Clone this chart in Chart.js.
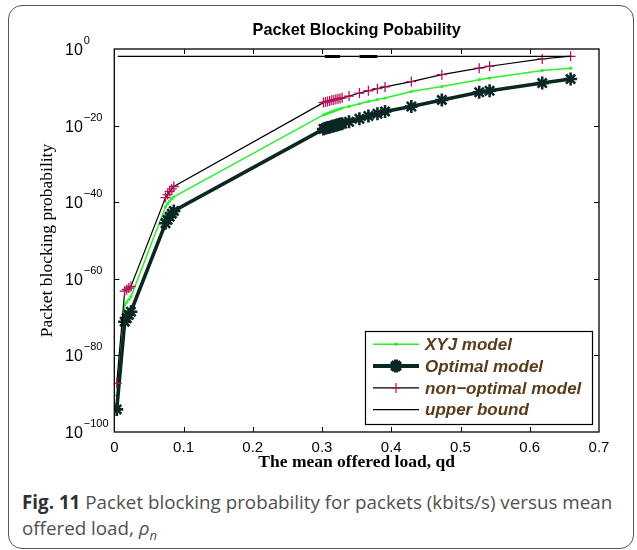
<!DOCTYPE html>
<html><head><meta charset="utf-8">
<script src="https://cdn.jsdelivr.net/npm/chart.js@4"></script>
<style>
html,body{margin:0;padding:0;background:#fff;}
#wrap{position:relative;width:637px;height:550px;overflow:hidden;background:#fff;}
#box{position:absolute;left:8px;top:5px;width:626px;height:544px;border:1.5px solid #555;border-radius:14px;box-sizing:border-box;}
#cv{position:absolute;left:0;top:0;}
#cap{position:absolute;left:22px;top:489px;font-family:'Open Sans',sans-serif;font-size:18.8px;line-height:26px;color:#505050;white-space:nowrap;}
#cap b{color:#303030;}
</style></head>
<body>
<div id="wrap">
<div id="box"></div>
<canvas id="cv" width="637" height="480"></canvas>
<div id="cap"><b>Fig. 11</b> Packet blocking probability for packets (kbits/s) versus mean<br>offered load, <i>ρ<sub style="font-size:13px">n</sub></i></div>
</div>
<script>
// Mean offered load (qd) at each computed point
const loadQd = [0.0035, 0.015, 0.018, 0.021, 0.024, 0.074, 0.077, 0.080, 0.083, 0.086,
  0.302, 0.305, 0.308, 0.311, 0.314, 0.317, 0.320, 0.323, 0.326, 0.329,
  0.339, 0.354, 0.367, 0.380, 0.391, 0.429, 0.473, 0.527, 0.542, 0.618, 0.659];
// Packet blocking probability, stored as log10 exponents (value = 10^exp)
const xyjExp = [-90.4, -66.8, -66.1, -65.4, -64.7, -41.2, -40.4, -39.7, -39.1, -38.6,
  -17.2, -17.0, -16.8, -16.6, -16.4, -16.2, -16.0, -15.8, -15.6, -15.4,
  -15.0, -14.3, -13.7, -13.2, -12.8, -11.1, -9.8, -8.0, -7.6, -5.6, -5.0];
const optimalExp = [-94.1, -71.2, -70.3, -69.4, -68.6, -45.5, -44.6, -43.8, -43.0, -42.3,
  -20.9, -20.7, -20.5, -20.4, -20.2, -20.1, -19.9, -19.8, -19.6, -19.5,
  -19.0, -18.2, -17.5, -16.9, -16.3, -15.0, -13.3, -11.3, -10.9, -8.9, -7.85];
const nonOptimalExp = [-87.3, -63.2, -62.8, -62.4, -62.0, -38.8, -38.0, -37.2, -36.5, -35.9,
  -14.0, -13.85, -13.7, -13.55, -13.4, -13.3, -13.15, -13.0, -12.9, -12.75,
  -12.3, -11.5, -10.9, -10.35, -9.9, -8.5, -6.7, -5.0, -4.5, -2.6, -1.9];
const upperLoad = [0.005, 0.304, 0.326, 0.354, 0.380, 0.659];
const upperExp = [-1.95, -1.95, -1.95, -1.95, -1.95, -1.95];
const xTicks = [0, 0.1, 0.2, 0.3, 0.4, 0.5, 0.6, 0.7];
const yTickExps = [0, -20, -40, -60, -80, -100];
const seriesNames = ['XYJ model', 'Optimal model', 'non\u2212optimal model', 'upper bound'];

const C_GREEN = '#2bef2b', C_OPT = '#0b2723', C_MAG = '#b3145a', C_BLK = '#000000';
const pts = (xs, es) => xs.map((x, i) => ({x: x, y: Math.pow(10, es[i])}));

const frameAndLabels = {
  id: 'frameAndLabels',
  afterDatasetsDraw(chart) {
    const ctx = chart.ctx, a = chart.chartArea;
    const xs = chart.scales.x, ys = chart.scales.y;
    ctx.save();
    ctx.strokeStyle = '#000'; ctx.lineWidth = 1.3;
    ctx.strokeRect(a.left, a.top, a.right - a.left, a.bottom - a.top);
    ctx.lineWidth = 1;
    xTicks.forEach(v => {
      if (v <= 0 || v >= 0.7) return;
      const px = Math.round(xs.getPixelForValue(v)) + 0.5;
      ctx.beginPath(); ctx.moveTo(px, a.bottom); ctx.lineTo(px, a.bottom - 5);
      ctx.moveTo(px, a.top); ctx.lineTo(px, a.top + 5); ctx.stroke();
    });
    yTickExps.forEach(e => {
      if (e === 0 || e === -100) return;
      const py = Math.round(ys.getPixelForValue(Math.pow(10, e))) + 0.5;
      ctx.beginPath(); ctx.moveTo(a.left, py); ctx.lineTo(a.left + 5, py);
      ctx.moveTo(a.right, py); ctx.lineTo(a.right - 5, py); ctx.stroke();
    });
    ctx.restore();
  },
  afterDraw(chart) {
    const ctx = chart.ctx, a = chart.chartArea, ys = chart.scales.y;
    ctx.save();
    // title
    ctx.fillStyle = '#000';
    ctx.font = 'bold 16.3px "Liberation Sans", Arial, sans-serif';
    ctx.textAlign = 'center'; ctx.textBaseline = 'middle';
    ctx.fillText('Packet Blocking Pobability', (a.left + a.right) / 2, 31);
    // y tick labels 10^n
    ctx.textAlign = 'left';
    yTickExps.forEach(e => {
      const py = ys.getPixelForValue(Math.pow(10, e));
      ctx.font = '16px "Liberation Sans", Arial, sans-serif';
      ctx.fillText('10', 65, py + 1.5);
      const w = ctx.measureText('10').width;
      ctx.font = '11px "Liberation Sans", Arial, sans-serif';
      ctx.fillText(e === 0 ? '0' : '\u2212' + Math.abs(e), 65 + w + 1, py - 8);
    });
    // legend
    const L = {x: 365, y: 331, w: 227, h: 93};
    ctx.fillStyle = '#fff'; ctx.fillRect(L.x, L.y, L.w, L.h);
    ctx.strokeStyle = '#000'; ctx.lineWidth = 1.2; ctx.strokeRect(L.x + 0.5, L.y + 0.5, L.w, L.h);
    const rows = [344.3, 366.1, 387.9, 409.7];
    const x0 = 373, x1 = 419, xm = 396;
    const H = Chart.helpers;
    const line = (y, col, w) => { ctx.strokeStyle = col; ctx.lineWidth = w; ctx.beginPath(); ctx.moveTo(x0, y); ctx.lineTo(x1, y); ctx.stroke(); };
    line(rows[0], C_GREEN, 1.5);
    ctx.fillStyle = C_GREEN; ctx.beginPath(); ctx.arc(xm, rows[0], 1.8, 0, Math.PI * 2); ctx.fill();
    line(rows[1], C_OPT, 4);
    ctx.strokeStyle = C_OPT; H.drawPoint(ctx, {pointStyle: 'star', radius: 6.5, rotation: 0, borderWidth: 2.6}, xm, rows[1]);
    line(rows[2], C_BLK, 1.2);
    ctx.strokeStyle = C_MAG; H.drawPoint(ctx, {pointStyle: 'cross', radius: 5, rotation: 0, borderWidth: 1.3}, xm, rows[2]);
    line(rows[3], C_BLK, 1.2);
    ctx.fillStyle = '#5a3b1c';
    ctx.font = 'italic bold 17px "Liberation Sans", Arial, sans-serif';
    ctx.textAlign = 'left'; ctx.textBaseline = 'middle';
    seriesNames.forEach((n, i) => ctx.fillText(n, 425, rows[i] + 1));
    ctx.restore();
  }
};

new Chart(document.getElementById('cv').getContext('2d'), {
  type: 'line',
  data: {
    datasets: [
      {label: seriesNames[3], data: pts(upperLoad, upperExp), borderColor: C_BLK, borderWidth: 1.2,
       pointRadius: 0, order: 0,
       segment: {borderWidth: c => (c.p0DataIndex === 1 || c.p0DataIndex === 3) ? 3 : 1.2}},
      {label: seriesNames[2], data: pts(loadQd, nonOptimalExp), borderColor: C_BLK, borderWidth: 1.2,
       pointStyle: 'cross', pointRadius: 5, pointBorderColor: C_MAG, pointBorderWidth: 1.3, order: 1},
      {label: seriesNames[1], data: pts(loadQd, optimalExp), borderColor: C_OPT, borderWidth: 3.6,
       pointStyle: 'star', pointRadius: 6.5, pointBorderColor: C_OPT, pointBorderWidth: 2.6, order: 2},
      {label: seriesNames[0], data: pts(loadQd, xyjExp), borderColor: C_GREEN, borderWidth: 1.5,
       pointStyle: 'circle', pointRadius: 1.6, pointBackgroundColor: C_GREEN, pointBorderColor: C_GREEN, pointBorderWidth: 0, order: 3}
    ]
  },
  options: {
    responsive: false, animation: false, devicePixelRatio: 1,
    layout: {padding: {left: 0, right: 38, top: 49, bottom: 0}},
    plugins: {legend: {display: false}, tooltip: {enabled: false}, title: {display: false}},
    elements: {line: {tension: 0}},
    scales: {
      x: {type: 'linear', min: 0, max: 0.7,
        grid: {display: false, drawTicks: false}, border: {display: false},
        afterBuildTicks: s => { s.ticks = xTicks.map(v => ({value: v})); },
        ticks: {padding: 7, color: '#000', font: {family: '"Liberation Sans", Arial, sans-serif', size: 15},
          callback: v => String(Number(Number(v).toFixed(1)))},
        title: {display: true, text: 'The mean offered load, qd', color: '#000',
          font: {family: '"Liberation Serif", "Times New Roman", serif', size: 17.5, weight: 'bold'},
          padding: {top: 0, bottom: 7}},
        afterFit: s => { s.height = 48; }},
      y: {type: 'logarithmic', min: 1e-100, max: 1,
        grid: {display: false, drawTicks: false}, border: {display: false},
        afterBuildTicks: s => { s.ticks = yTickExps.map(e => ({value: Math.pow(10, e)})); },
        ticks: {display: false},
        title: {display: true, text: 'Packet blocking probability', color: '#000',
          font: {family: '"Liberation Serif", "Times New Roman", serif', size: 17.5},
          padding: {top: 37, bottom: 0}},
        afterFit: s => { s.width = 114.3; }}
    }
  },
  plugins: [frameAndLabels]
});
</script>
</body></html>
